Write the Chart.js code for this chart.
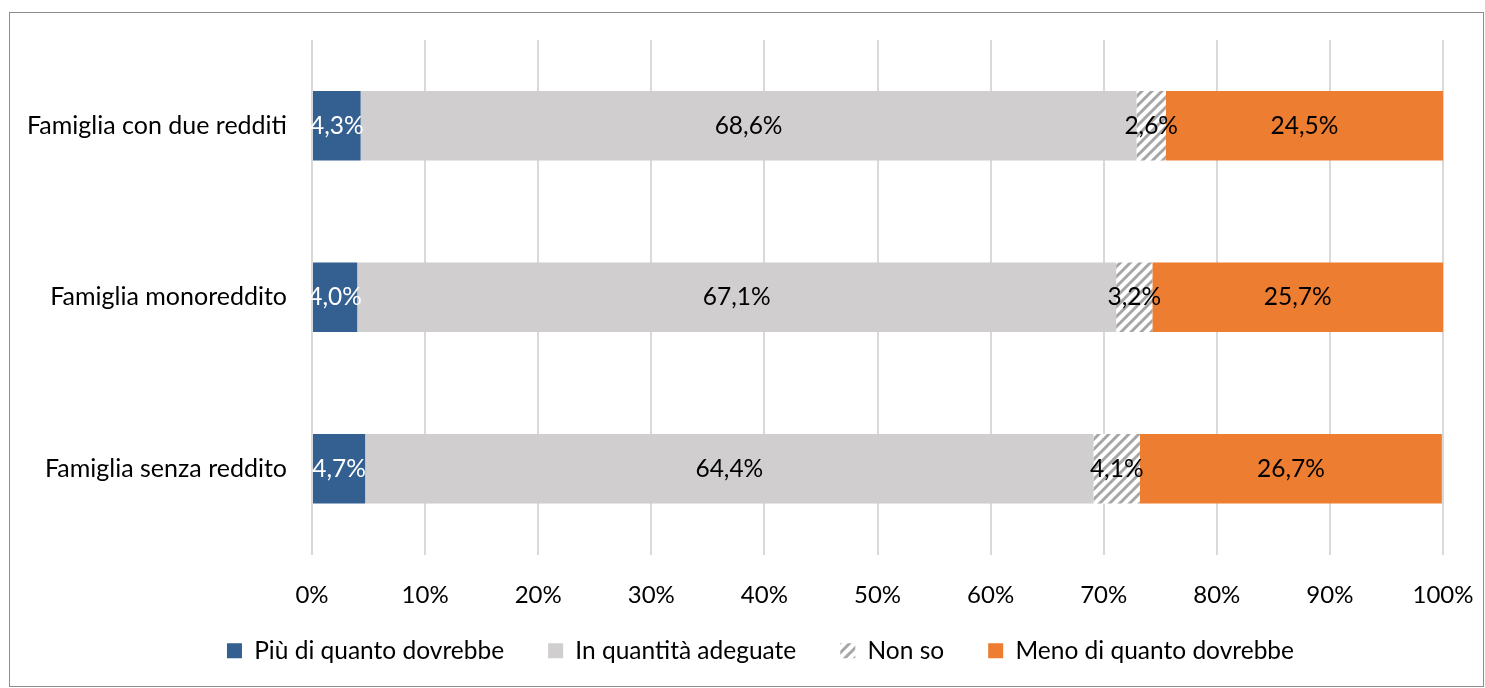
<!DOCTYPE html>
<html>
<head>
<meta charset="utf-8">
<script src="https://cdn.jsdelivr.net/npm/chart.js@4.4.0/dist/chart.umd.min.js"></script>
<style>
  html, body { margin: 0; padding: 0; background: #fff; }
  #box { position: absolute; left: 9px; top: 12px; width: 1473px; height: 673px; border: 1px solid #8c8c8c; }
</style>
</head>
<body>
<div id="box"><canvas id="bar"></canvas></div>
<script>
// data
var categories = ["Famiglia con due redditi", "Famiglia monoreddito", "Famiglia senza reddito"];
var seriesNames = ["Più di quanto dovrebbe", "In quantità adeguate", "Non so", "Meno di quanto dovrebbe"];
var piuDi = [4.3, 4.0, 4.7];
var adeguate = [68.6, 67.1, 64.4];
var nonSo = [2.6, 3.2, 4.1];
var menoDi = [24.5, 25.7, 26.7];
var xTicks = [0, 10, 20, 30, 40, 50, 60, 70, 80, 90, 100];

var FONT = "Lato, 'Open Sans', sans-serif";

// diagonal hatch for "Non so"
function hatch() {
  var c = document.createElement("canvas");
  c.width = 10; c.height = 10;
  var g = c.getContext("2d");
  g.fillStyle = "#ffffff";
  g.fillRect(0, 0, 10, 10);
  g.strokeStyle = "#a6a6a6";
  g.lineWidth = 3;
  g.beginPath();
  g.moveTo(-2, 12); g.lineTo(12, -2);
  g.moveTo(-7, 7); g.lineTo(7, -7);
  g.moveTo(3, 17); g.lineTo(17, 3);
  g.stroke();
  return g.createPattern(c, "repeat");
}

var labelColors = ["#ffffff", "#000000", "#000000", "#000000"];

var barLabels = {
  id: "barLabels",
  afterDatasetsDraw: function (chart) {
    var ctx = chart.ctx;
    ctx.save();
    ctx.font = "24.5px " + FONT;
    ctx.textAlign = "center";
    ctx.textBaseline = "middle";
    chart.data.datasets.forEach(function (ds, i) {
      chart.getDatasetMeta(i).data.forEach(function (bar, j) {
        var v = ds.data[j];
        ctx.fillStyle = labelColors[i];
        var cx = (bar.x + bar.base) / 2;
        ctx.fillText(v.toFixed(1).replace(".", ",") + "%", cx, bar.y);
      });
    });
    ctx.restore();
  }
};

// x tick labels hang below the (short) x axis box, and legend sits a bit right of centre
var tweakLayout = {
  id: "tweakLayout",
  afterLayout: function (chart) {
    chart.scales.x.bottom = chart.height;
    chart.legend.left += 34;
    chart.legend.right += 34;
  }
};

var ctx = document.getElementById("bar").getContext("2d");
var myChart = new Chart(ctx, {
  type: "bar",
  data: {
    labels: categories,
    datasets: [
      { label: seriesNames[0], data: piuDi, backgroundColor: "#335f91" },
      { label: seriesNames[1], data: adeguate, backgroundColor: "#d0cece" },
      { label: seriesNames[2], data: nonSo, backgroundColor: hatch() },
      { label: seriesNames[3], data: menoDi, backgroundColor: "#ed7d31" },
    ],
  },
  plugins: [barLabels, tweakLayout],
  options: {
    indexAxis: "y",
    responsive: true,
    maintainAspectRatio: false,
    animation: false,
    datasets: { bar: { barPercentage: 0.81, categoryPercentage: 0.5 } },
    layout: { padding: { top: 27, right: 40, bottom: 13, left: 0 } },
    scales: {
      x: {
        stacked: true,
        min: 0,
        max: 100,
        afterBuildTicks: function (axis) {
          axis.ticks = xTicks.map(function (v) { return { value: v }; });
        },
        afterFit: function (axis) { axis.paddingRight = 0; axis.paddingLeft = 0; axis.height = 40; },
        grid: { color: "#d9d9d9", lineWidth: 2, drawTicks: false },
        border: { display: false },
        ticks: {
          padding: 26,
          color: "#000",
          font: { size: 24, family: FONT },
          callback: function (v) { return v + "%"; }
        }
      },
      y: {
        stacked: true,
        grid: { display: false },
        border: { display: false },
        afterFit: function (axis) { axis.width = 302; axis.paddingTop = 0; axis.paddingBottom = 0; },
        ticks: {
          padding: 17,
          color: "#000",
          font: { size: 25, family: FONT }
        }
      }
    },
    plugins: {
      legend: {
        position: "bottom",
        labels: {
          boxWidth: 15,
          boxHeight: 15,
          padding: 44,
          color: "#000",
          font: { size: 24.5, family: FONT }
        }
      },
      tooltip: { enabled: false }
    }
  },
});
</script>
</body>
</html>
